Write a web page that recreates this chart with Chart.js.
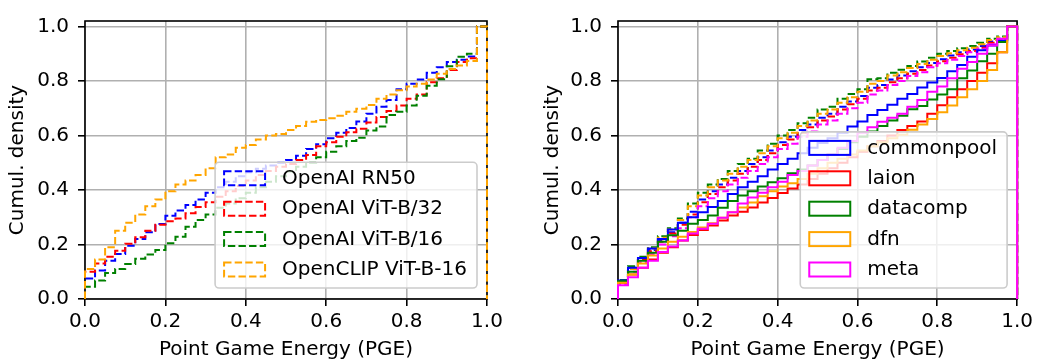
<!DOCTYPE html>
<html>
<head>
<meta charset="utf-8">
<script src="https://cdn.jsdelivr.net/npm/chart.js@4.4.1/dist/chart.umd.min.js"></script>
<style>
  html, body { margin: 0; padding: 0; background: #fff; }
  #wrap { position: relative; width: 1037px; height: 360px; overflow: hidden; }
  .panel { position: absolute; top: 0; height: 360px; }
  #left { left: 0; width: 518px; }
  #right { left: 518px; width: 519px; }
</style>
</head>
<body>
<div id="wrap">
  <div class="panel" id="left"><canvas id="cvLeft" width="518" height="360"></canvas></div>
  <div class="panel" id="right"><canvas id="cvRight" width="519" height="360"></canvas></div>
</div>
<script>
const FONT = "'DejaVu Sans', 'Liberation Sans', sans-serif";
const DASH = [7.4, 3.2];

// ------------------------
// Data (cumulative density per PGE bin)
// ------------------------
const PGE_BINS = [0.000, 0.025, 0.050, 0.075, 0.100, 0.125, 0.150, 0.175, 0.200, 0.225,
                  0.250, 0.275, 0.300, 0.325, 0.350, 0.375, 0.400, 0.425, 0.450, 0.475,
                  0.500, 0.525, 0.550, 0.575, 0.600, 0.625, 0.650, 0.675, 0.700, 0.725,
                  0.750, 0.775, 0.800, 0.825, 0.850, 0.875, 0.900, 0.925, 0.950, 0.975];
const X_TICKS = [0.0, 0.2, 0.4, 0.6, 0.8, 1.0];
const Y_TICKS = [0.0, 0.2, 0.4, 0.6, 0.8, 1.0];

// left panel: models
const MODEL_LABELS = ["OpenAI RN50", "OpenAI ViT-B/32", "OpenAI ViT-B/16", "OpenCLIP ViT-B-16"];
const MODEL_COLORS = ["#0000ff", "#ff0000", "#008000", "#ffa500"];
const RN50 = [0.075, 0.105, 0.14, 0.165, 0.195, 0.22, 0.245, 0.275, 0.305, 0.325,
              0.345, 0.365, 0.39, 0.41, 0.43, 0.45, 0.465, 0.478, 0.49, 0.50,
              0.51, 0.526, 0.55, 0.568, 0.59, 0.61, 0.627, 0.651, 0.68, 0.705,
              0.73, 0.77, 0.79, 0.805, 0.83, 0.85, 0.87, 0.878, 0.89, 1.0];
const VITB32 = [0.10, 0.13, 0.155, 0.177, 0.203, 0.227, 0.25, 0.272, 0.285, 0.295,
                0.315, 0.338, 0.355, 0.375, 0.395, 0.415, 0.435, 0.455, 0.47, 0.485,
                0.495, 0.51, 0.528, 0.56, 0.575, 0.595, 0.612, 0.625, 0.648, 0.668,
                0.69, 0.71, 0.735, 0.75, 0.795, 0.81, 0.84, 0.87, 0.883, 1.0];
const VITB16 = [0.045, 0.068, 0.095, 0.11, 0.128, 0.148, 0.163, 0.18, 0.205, 0.228,
                0.265, 0.29, 0.31, 0.335, 0.35, 0.37, 0.39, 0.41, 0.43, 0.45,
                0.468, 0.485, 0.5, 0.52, 0.54, 0.56, 0.58, 0.592, 0.618, 0.633,
                0.675, 0.687, 0.71, 0.746, 0.782, 0.806, 0.854, 0.889, 0.9, 1.0];
const OPENCLIP_B16 = [0.11, 0.145, 0.19, 0.25, 0.28, 0.31, 0.34, 0.365, 0.395, 0.42,
                      0.435, 0.455, 0.48, 0.52, 0.53, 0.555, 0.565, 0.585, 0.60, 0.605,
                      0.62, 0.635, 0.65, 0.657, 0.663, 0.672, 0.687, 0.698, 0.712, 0.735,
                      0.75, 0.766, 0.78, 0.79, 0.805, 0.826, 0.844, 0.857, 0.873, 1.0];

// right panel: data pools (solid) and their dashed counterparts
const POOL_LABELS = ["commonpool", "laion", "datacomp", "dfn", "meta"];
const POOL_COLORS = ["#0000ff", "#ff0000", "#008000", "#ffa500", "#ff00ff"];
const COMMONPOOL = [0.068, 0.115, 0.15, 0.185, 0.22, 0.255, 0.28, 0.30, 0.318, 0.338,
                    0.36, 0.385, 0.41, 0.43, 0.45, 0.475, 0.495, 0.515, 0.535, 0.555,
                    0.572, 0.59, 0.61, 0.633, 0.651, 0.675, 0.693, 0.713, 0.735, 0.752,
                    0.776, 0.794, 0.811, 0.836, 0.859, 0.889, 0.913, 0.93, 0.948, 1.0];
const LAION = [0.06, 0.09, 0.115, 0.145, 0.17, 0.19, 0.215, 0.235, 0.253, 0.27,
               0.288, 0.306, 0.32, 0.336, 0.354, 0.371, 0.389, 0.405, 0.42, 0.44,
               0.46, 0.48, 0.50, 0.52, 0.54, 0.56, 0.58, 0.60, 0.62, 0.635,
               0.651, 0.68, 0.711, 0.74, 0.77, 0.80, 0.83, 0.865, 0.905, 1.0];
const DATACOMP = [0.065, 0.1, 0.14, 0.17, 0.21, 0.234, 0.25, 0.276, 0.29, 0.306,
                  0.335, 0.36, 0.38, 0.395, 0.413, 0.428, 0.443, 0.461, 0.475, 0.49,
                  0.51, 0.53, 0.55, 0.575, 0.595, 0.615, 0.635, 0.655, 0.672, 0.696,
                  0.708, 0.732, 0.75, 0.77, 0.81, 0.838, 0.872, 0.9, 0.943, 1.0];
const DFN = [0.06, 0.09, 0.13, 0.16, 0.185, 0.21, 0.228, 0.246, 0.262, 0.278,
             0.298, 0.318, 0.336, 0.354, 0.377, 0.395, 0.413, 0.425, 0.44, 0.46,
             0.48, 0.50, 0.515, 0.53, 0.545, 0.56, 0.575, 0.59, 0.603, 0.621,
             0.64, 0.66, 0.685, 0.71, 0.74, 0.77, 0.80, 0.84, 0.905, 1.0];
const META = [0.05, 0.08, 0.115, 0.14, 0.172, 0.193, 0.215, 0.24, 0.258, 0.276,
              0.298, 0.318, 0.35, 0.372, 0.39, 0.41, 0.43, 0.455, 0.47, 0.49,
              0.51, 0.53, 0.555, 0.58, 0.61, 0.63, 0.65, 0.665, 0.68, 0.705,
              0.73, 0.76, 0.78, 0.81, 0.845, 0.87, 0.9, 0.93, 0.955, 1.0];
const COMMONPOOL_DASHED = [0.07, 0.115, 0.15, 0.18, 0.215, 0.245, 0.28, 0.32, 0.365, 0.395,
                           0.42, 0.445, 0.47, 0.495, 0.52, 0.545, 0.575, 0.595, 0.62, 0.64,
                           0.665, 0.68, 0.705, 0.725, 0.745, 0.775, 0.785, 0.805, 0.82, 0.836,
                           0.85, 0.866, 0.88, 0.893, 0.905, 0.915, 0.928, 0.945, 0.955, 1.0];
const LAION_DASHED = [0.065, 0.11, 0.145, 0.175, 0.21, 0.24, 0.272, 0.31, 0.355, 0.385,
                      0.41, 0.435, 0.46, 0.485, 0.51, 0.535, 0.565, 0.585, 0.61, 0.63,
                      0.655, 0.67, 0.695, 0.715, 0.735, 0.765, 0.775, 0.795, 0.81, 0.826,
                      0.84, 0.857, 0.872, 0.885, 0.898, 0.91, 0.922, 0.94, 0.952, 1.0];
const DATACOMP_DASHED = [0.07, 0.12, 0.155, 0.19, 0.23, 0.26, 0.295, 0.35, 0.39, 0.42,
                         0.44, 0.47, 0.495, 0.515, 0.545, 0.57, 0.60, 0.62, 0.645, 0.665,
                         0.695, 0.705, 0.735, 0.752, 0.77, 0.806, 0.81, 0.83, 0.841, 0.855,
                         0.871, 0.885, 0.90, 0.91, 0.92, 0.928, 0.94, 0.955, 0.963, 1.0];
const DFN_DASHED = [0.065, 0.11, 0.15, 0.185, 0.225, 0.255, 0.29, 0.34, 0.38, 0.41,
                    0.435, 0.46, 0.485, 0.51, 0.535, 0.56, 0.59, 0.61, 0.635, 0.655,
                    0.68, 0.695, 0.72, 0.74, 0.76, 0.79, 0.8, 0.82, 0.832, 0.848,
                    0.862, 0.878, 0.892, 0.902, 0.913, 0.922, 0.935, 0.95, 0.96, 1.0];
const META_DASHED = [0.055, 0.1, 0.135, 0.165, 0.2, 0.23, 0.26, 0.3, 0.34, 0.37,
                     0.395, 0.42, 0.445, 0.47, 0.495, 0.52, 0.55, 0.57, 0.595, 0.615,
                     0.64, 0.655, 0.68, 0.7, 0.72, 0.75, 0.765, 0.785, 0.8, 0.818,
                     0.832, 0.85, 0.865, 0.878, 0.892, 0.905, 0.918, 0.935, 0.95, 1.0];

// ------------------------
// Helpers
// ------------------------
// step outline like hist(histtype="step", cumulative=True): up at 0, down at 1
function stepPoints(cum) {
    const pts = [{ x: PGE_BINS[0], y: 0 }];
    cum.forEach((v, i) => pts.push({ x: PGE_BINS[i], y: v }));
    pts.push({ x: 1, y: cum[cum.length - 1] });
    pts.push({ x: 1, y: 0 });
    return pts;
}

function histDataset(label, cum, color, dashed, order) {
    return {
        label,
        data: stepPoints(cum),
        borderColor: color,
        borderWidth: 2,
        borderDash: dashed ? DASH : [],
        stepped: "before",
        pointRadius: 0,
        tension: 0,
        fill: false,
        clip: false,
        order,
    };
}

function scales(yAxisWidth, yTitlePad) {
    const grid = { color: "#b0b0b0", lineWidth: 1.6, tickColor: "#000", tickLength: 7, tickWidth: 1.6 };
    return {
        x: {
            type: "linear", min: 0, max: 1,
            afterBuildTicks: s => { s.ticks = X_TICKS.map(v => ({ value: v })); },
            afterFit: s => { s.height = 61; },
            ticks: { callback: v => Number(v).toFixed(1), color: "#000", font: { family: FONT, size: 20 }, padding: 4, maxRotation: 0 },
            grid, border: { display: false },
            title: { display: true, text: "Point Game Energy (PGE)", color: "#000",
                     font: { family: FONT, size: 20, lineHeight: 1 }, padding: { top: 0, bottom: 0 } },
        },
        y: {
            min: 0, max: 1.02,
            afterBuildTicks: s => { s.ticks = Y_TICKS.map(v => ({ value: v })); },
            afterFit: s => { s.width = yAxisWidth; },
            ticks: { callback: v => Number(v).toFixed(1), color: "#000", font: { family: FONT, size: 20 }, padding: 9 },
            grid, border: { display: false },
            title: { display: true, text: "Cumul. density", color: "#000",
                     font: { family: FONT, size: 20, lineHeight: 1 }, padding: { top: yTitlePad, bottom: 0 } },
        },
    };
}

function roundRectPath(ctx, x, y, w, h, r) {
    ctx.beginPath();
    ctx.moveTo(x + r, y);
    ctx.arcTo(x + w, y, x + w, y + h, r);
    ctx.arcTo(x + w, y + h, x, y + h, r);
    ctx.arcTo(x, y + h, x, y, r);
    ctx.arcTo(x, y, x + w, y, r);
    ctx.closePath();
}

// axes frame under the lines, legend box on top
const frameAndLegend = {
    id: "frameAndLegend",
    beforeDatasetsDraw(chart) {
        const { ctx, chartArea: a } = chart;
        ctx.save();
        ctx.strokeStyle = "#000";
        ctx.lineWidth = 1.6;
        ctx.strokeRect(a.left, a.top, a.right - a.left, a.bottom - a.top);
        ctx.restore();
    },
    afterDatasetsDraw(chart, args, opts) {
        const items = opts.items || [];
        const { ctx, chartArea: a } = chart;
        ctx.save();
        ctx.font = "20px " + FONT;
        const textW = Math.max(...items.map(it => ctx.measureText(it.label).width));
        const w = 67 + textW + 10;
        const h = 16 + (items.length - 1) * 30.4 + 18.5;
        const left = a.right - 10 - w;
        const top = a.bottom - 11 - h;
        roundRectPath(ctx, left, top, w, h, 4);
        ctx.fillStyle = "rgba(255,255,255,0.8)";
        ctx.fill();
        ctx.strokeStyle = "#cccccc";
        ctx.lineWidth = 1.6;
        ctx.stroke();
        items.forEach((it, i) => {
            const cy = top + 16 + i * 30.4;
            ctx.setLineDash(it.dashed ? DASH : []);
            ctx.strokeStyle = it.color;
            ctx.lineWidth = 2;
            ctx.strokeRect(left + 9, cy - 7, 41, 14);
            ctx.setLineDash([]);
            ctx.fillStyle = "#000";
            ctx.textAlign = "left";
            ctx.textBaseline = "middle";
            ctx.fillText(it.label, left + 67, cy + 0.5);
        });
        ctx.restore();
    },
};

function baseOptions(yAxisWidth, yTitlePad, rightPad, legendItems) {
    return {
        responsive: false,
        animation: false,
        layout: { padding: { left: 0, right: rightPad, top: 14, bottom: 0 } },
        scales: scales(yAxisWidth, yTitlePad),
        plugins: {
            legend: { display: false },
            tooltip: { enabled: false },
            frameAndLegend: { items: legendItems },
        },
    };
}

// ------------------------
// Left panel
// ------------------------
const modelSeries = [RN50, VITB32, VITB16, OPENCLIP_B16];
new Chart(document.getElementById("cvLeft"), {
    type: "line",
    data: {
        datasets: modelSeries.map((s, i) =>
            histDataset(MODEL_LABELS[i], s, MODEL_COLORS[i], true, modelSeries.length - 1 - i)),
    },
    options: baseOptions(85, 8, 31,
        MODEL_LABELS.map((l, i) => ({ label: l, color: MODEL_COLORS[i], dashed: true }))),
    plugins: [frameAndLegend],
});

// ------------------------
// Right panel
// ------------------------
const poolDashed = [COMMONPOOL_DASHED, LAION_DASHED, DATACOMP_DASHED, DFN_DASHED, META_DASHED];
const poolSolid = [COMMONPOOL, LAION, DATACOMP, DFN, META];
const rightSets = [];
poolDashed.forEach((s, i) => rightSets.push(histDataset(POOL_LABELS[i] + " (dashed)", s, POOL_COLORS[i], true, 0)));
poolSolid.forEach((s, i) => rightSets.push(histDataset(POOL_LABELS[i], s, POOL_COLORS[i], false, 0)));
rightSets.forEach((d, i) => { d.order = rightSets.length - 1 - i; });

new Chart(document.getElementById("cvRight"), {
    type: "line",
    data: { datasets: rightSets },
    options: baseOptions(100, 25, 17,
        POOL_LABELS.map((l, i) => ({ label: l, color: POOL_COLORS[i], dashed: false }))),
    plugins: [frameAndLegend],
});
</script>
</body>
</html>
